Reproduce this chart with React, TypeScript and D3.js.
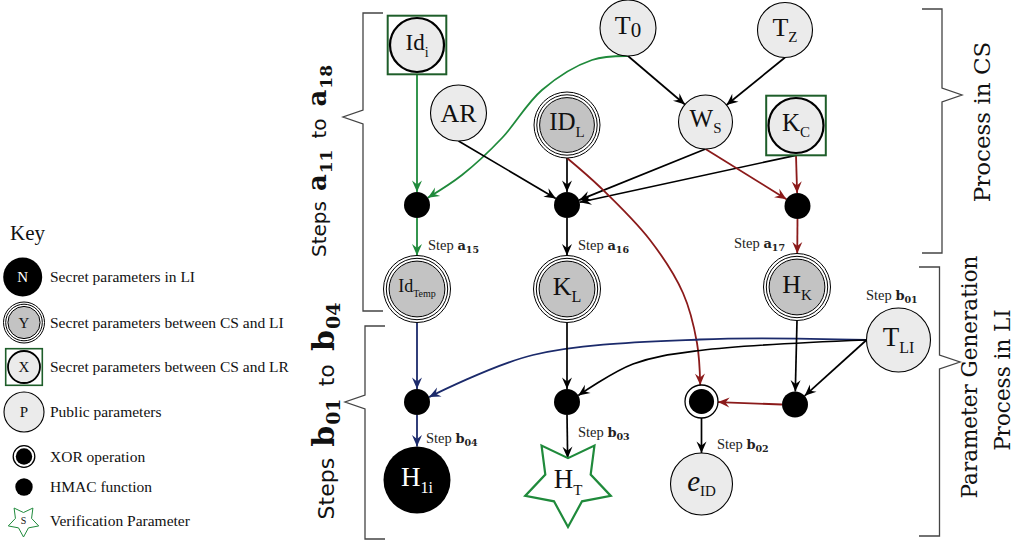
import React from 'react';
import * as d3 from 'd3';

type Kind = 'public' | 'lr' | 'secret' | 'li' | 'hmac' | 'xor' | 'star';
interface NodeDef { id: string; kind: Kind; x: number; y: number; r: number; main?: string; sub?: string; size?: number; subSize?: number; subDy?: number; italic?: boolean; }
interface EdgeDef { from: string; to: string; color?: 'black' | 'green' | 'red' | 'blue'; port?: 'bottom' | 'left'; via?: [number, number][]; }

const W = 1017;
const H = 542;

const SERIF = "'Liberation Serif', 'Times New Roman', serif";
const DSERIF = "'DejaVu Serif', serif";
const SANS = "'DejaVu Sans', sans-serif";

const COLORS: Record<string, string> = { black: '#000000', green: '#1f8a3b', red: '#8b1a1a', blue: '#1b2a6b' };
const BOX_GREEN = '#1e5e2a';
const FILL_PUBLIC = '#ebebeb';
const FILL_SECRET = '#c3c3c3';

// ---- diagram nodes ----
const NODES: NodeDef[] = [
  { id: 'Idi', kind: 'lr', x: 417, y: 45, r: 27, main: 'Id', sub: 'i', size: 23, subSize: 14, subDy: 7 },
  { id: 'T0', kind: 'public', x: 628, y: 28, r: 28, main: 'T', sub: '0', size: 26, subSize: 21, subDy: 3 },
  { id: 'Tz', kind: 'public', x: 785, y: 30, r: 27.5, main: 'T', sub: 'Z', size: 26, subSize: 15, subDy: 6 },
  { id: 'AR', kind: 'public', x: 458.5, y: 113, r: 28, main: 'AR', size: 26 },
  { id: 'IDL', kind: 'secret', x: 567, y: 125, r: 33, main: 'ID', sub: 'L', size: 25, subSize: 15, subDy: 7 },
  { id: 'WS', kind: 'public', x: 705.5, y: 122, r: 27, main: 'W', sub: 'S', size: 25, subSize: 15, subDy: 6 },
  { id: 'KC', kind: 'lr', x: 796, y: 125.5, r: 27.5, main: 'K', sub: 'C', size: 25, subSize: 15, subDy: 6 },
  { id: 'h1', kind: 'hmac', x: 417, y: 205, r: 13 },
  { id: 'h2', kind: 'hmac', x: 567, y: 205, r: 13 },
  { id: 'h3', kind: 'hmac', x: 797.5, y: 206, r: 13 },
  { id: 'IdTemp', kind: 'secret', x: 417, y: 289, r: 33.5, main: 'Id', sub: 'Temp', size: 18, subSize: 10, subDy: 5 },
  { id: 'KL', kind: 'secret', x: 567, y: 289, r: 33.5, main: 'K', sub: 'L', size: 26, subSize: 16, subDy: 7 },
  { id: 'HK', kind: 'secret', x: 797, y: 287, r: 33.5, main: 'H', sub: 'K', size: 26, subSize: 15, subDy: 7 },
  { id: 'TLI', kind: 'public', x: 898.5, y: 340, r: 32, main: 'T', sub: 'LI', size: 27, subSize: 16, subDy: 7 },
  { id: 'h4', kind: 'hmac', x: 417, y: 402, r: 13 },
  { id: 'h5', kind: 'hmac', x: 567, y: 402, r: 13 },
  { id: 'x1', kind: 'xor', x: 701.5, y: 401.5, r: 16.5 },
  { id: 'h6', kind: 'hmac', x: 795, y: 404.5, r: 13 },
  { id: 'H1i', kind: 'li', x: 417, y: 480, r: 33.5, main: 'H', sub: '1i', size: 27, subSize: 16, subDy: 7 },
  { id: 'HT', kind: 'star', x: 568, y: 482, r: 45, main: 'H', sub: 'T', size: 27, subSize: 15, subDy: 7 },
  { id: 'eID', kind: 'public', x: 701.5, y: 484, r: 31, main: 'e', sub: 'ID', size: 29, subSize: 15, subDy: 5, italic: true },
];

// ---- diagram edges ----
const EDGES: EdgeDef[] = [
  { from: 'Idi', to: 'h1', color: 'green' },
  { from: 'T0', to: 'h1', color: 'green', via: [[592, 60], [542, 90], [502, 138], [462, 175]] },
  { from: 'T0', to: 'WS' },
  { from: 'Tz', to: 'WS' },
  { from: 'AR', to: 'h2' },
  { from: 'IDL', to: 'h2' },
  { from: 'WS', to: 'h2' },
  { from: 'KC', to: 'h2' },
  { from: 'WS', to: 'h3', color: 'red' },
  { from: 'KC', to: 'h3', color: 'red' },
  { from: 'IDL', to: 'x1', color: 'red', via: [[601, 188], [650, 240], [683, 293], [697, 343]] },
  { from: 'h1', to: 'IdTemp', color: 'green' },
  { from: 'h2', to: 'KL' },
  { from: 'h3', to: 'HK', color: 'red' },
  { from: 'IdTemp', to: 'h4', color: 'blue' },
  { from: 'TLI', to: 'h4', color: 'blue', port: 'left', via: [[700, 339.5], [533, 355]] },
  { from: 'KL', to: 'h5' },
  { from: 'TLI', to: 'h5', port: 'left', via: [[700, 350.5], [633, 364]] },
  { from: 'HK', to: 'h6' },
  { from: 'TLI', to: 'h6', port: 'left' },
  { from: 'h6', to: 'x1', color: 'red', port: 'left' },
  { from: 'x1', to: 'eID' },
  { from: 'h4', to: 'H1i', color: 'blue' },
  { from: 'h5', to: 'HT' },
];

// ---- step annotations ----
const STEP_LETTERS = ['a', 'a', 'a', 'b', 'b', 'b', 'b'];
const STEP_NUMBERS = ['15', '16', '17', '01', '02', '03', '04'];
const STEP_ANCHORS: [number, number][] = [[428, 250], [578, 250], [734, 248], [866, 300], [717, 449], [578, 437], [426, 443]];

// ---- legend ----
const LEGEND_KINDS: Kind[] = ['li', 'secret', 'lr', 'public', 'xor', 'hmac', 'star'];
const LEGEND_GLYPHS = ['N', 'Y', 'X', 'P', '', '', 'S'];
const LEGEND_LABELS = [
  'Secret parameters in LI',
  'Secret parameters between CS and LI',
  'Secret parameters between CS and LR',
  'Public parameters',
  'XOR operation',
  'HMAC function',
  'Verification Parameter',
];
const LEGEND_Y = [277, 322.5, 367, 412, 456.5, 487, 521];

const nodeById: Record<string, NodeDef> = Object.fromEntries(NODES.map((n) => [n.id, n]));

const STAR_INNER = 0.53;

function starPath(cx: number, cy: number, R: number) {
  const pts: [number, number][] = [];
  for (let k = 0; k < 10; k++) {
    const ang = ((90 + k * 36) * Math.PI) / 180;
    const rr = k % 2 === 0 ? R : R * STAR_INNER;
    pts.push([cx + rr * Math.cos(ang), cy + rr * Math.sin(ang)]);
  }
  return d3.line()(pts) + 'Z';
}

function extent(n: NodeDef) {
  if (n.kind === 'lr') return n.r + 2.3;
  if (n.kind === 'star') return n.r * STAR_INNER;
  return n.r;
}

function edgePath(e: EdgeDef) {
  const a = nodeById[e.from];
  const b = nodeById[e.to];
  const via = e.via ?? [];
  const port = e.port ?? 'bottom';
  const start: [number, number] = port === 'bottom' ? [a.x, a.y + extent(a)] : [a.x - extent(a), a.y];
  const last = via.length ? via[via.length - 1] : start;
  const dx = last[0] - b.x;
  const dy = last[1] - b.y;
  const len = Math.hypot(dx, dy) || 1;
  const rb = extent(b);
  const end: [number, number] = [b.x + (dx / len) * rb, b.y + (dy / len) * rb];
  const pts = [start, ...via, end];
  return d3.line().curve(d3.curveCatmullRom.alpha(0.5))(pts) as string;
}

function bracketPath(hx: number, vx: number, top: number, bottom: number, tipX: number, tipY: number) {
  const pts: [number, number][] = [
    [hx, top], [vx, top], [vx, tipY - 7], [tipX, tipY], [vx, tipY + 7], [vx, bottom], [hx, bottom],
  ];
  return d3.line()(pts) as string;
}

function Label({ n, fill }: { n: NodeDef; fill: string }) {
  const s = n.size ?? 24;
  const base = n.y + 0.33 * s - (n.sub ? 3 : 0);
  return (
    <text x={n.x} y={base} textAnchor="middle" fontFamily={SERIF} fill={fill}>
      <tspan fontSize={s} fontStyle={n.italic ? 'italic' : 'normal'}>{n.main}</tspan>
      {n.sub ? <tspan fontSize={n.subSize} dy={n.subDy}>{n.sub}</tspan> : null}
    </text>
  );
}

function NodeShape({ n, legend }: { n: NodeDef; legend?: boolean }) {
  const { x, y, r } = n;
  switch (n.kind) {
    case 'public':
      return <circle cx={x} cy={y} r={r} fill={FILL_PUBLIC} stroke="#000" strokeWidth={1.1} />;
    case 'lr': {
      const h = r + 2.3;
      return (
        <g>
          <rect x={x - h} y={y - h} width={2 * h} height={2 * h} fill="#fff" stroke={BOX_GREEN} strokeWidth={legend ? 1.6 : 2} />
          <circle cx={x} cy={y} r={r} fill={FILL_PUBLIC} stroke="#000" strokeWidth={legend ? 1.8 : 2.2} />
        </g>
      );
    }
    case 'secret': {
      const step = legend ? 2.2 : 2.8;
      return (
        <g stroke="#000" strokeWidth={1}>
          <circle cx={x} cy={y} r={r} fill="#fff" />
          <circle cx={x} cy={y} r={r - step} fill="#fff" />
          <circle cx={x} cy={y} r={r - 2 * step} fill={FILL_SECRET} />
        </g>
      );
    }
    case 'li':
    case 'hmac':
      return <circle cx={x} cy={y} r={r} fill="#000" />;
    case 'xor':
      return (
        <g>
          <circle cx={x} cy={y} r={r} fill="#fff" stroke="#000" strokeWidth={1.3} />
          <circle cx={x} cy={y} r={r * 0.76} fill="#000" />
        </g>
      );
    case 'star':
      return <path d={starPath(x, y, r)} fill="#fff" stroke={COLORS.green} strokeWidth={legend ? 1 : 2.2} strokeLinejoin="miter" />;
    default:
      return null;
  }
}

function StepLabel({ letter, num, x, y }: { letter: string; num: string; x: number; y: number }) {
  return (
    <text x={x} y={y} fill="#222">
      <tspan fontFamily={SERIF} fontSize={14.5}>Step </tspan>
      <tspan fontFamily={DSERIF} fontWeight="bold" fontSize={13}>{letter}</tspan>
      <tspan fontFamily={DSERIF} fontWeight="bold" fontSize={9.5} dy={3}>{num}</tspan>
    </text>
  );
}

function RangeLabel({ x, y, letter, n1, n2, s, b, d }: { x: number; y: number; letter: string; n1: string; n2: string; s: number; b: number; d: number }) {
  return (
    <text transform={`translate(${x},${y}) rotate(-90)`} textAnchor="middle" fill="#111">
      <tspan fontFamily={SANS} fontSize={s}>Steps</tspan>
      <tspan fontFamily={DSERIF} fontWeight="bold" fontSize={b} dx={s * 0.5}>{letter}</tspan>
      <tspan fontFamily={DSERIF} fontWeight="bold" fontSize={d} dy={d * 0.33} dx={1}>{n1}</tspan>
      <tspan fontFamily={SANS} fontSize={s} dy={-d * 0.33} dx={s * 0.55}>to</tspan>
      <tspan fontFamily={DSERIF} fontWeight="bold" fontSize={b} dx={s * 0.6}>{letter}</tspan>
      <tspan fontFamily={DSERIF} fontWeight="bold" fontSize={d} dy={d * 0.33} dx={1}>{n2}</tspan>
    </text>
  );
}

export default function App() {
  const markerColors = Object.keys(COLORS);
  return (
    <svg width={W} height={H} viewBox={`0 0 ${W} ${H}`} style={{ position: 'absolute', left: 0, top: 0, background: '#fff' }}>
      <defs>
        {markerColors.map((c) => (
          <marker key={c} id={`arr-${c}`} markerUnits="userSpaceOnUse" markerWidth={14} markerHeight={12} viewBox="-12 -6 14 12" refX={0} refY={0} orient="auto">
            <path d="M0,0 L-11.5,-5 L-7.5,0 L-11.5,5 Z" fill={COLORS[c]} />
          </marker>
        ))}
      </defs>

      {/* brackets */}
      <g fill="none" stroke="#444" strokeWidth={1.3}>
        <path d={bracketPath(383, 363, 13, 311, 343, 117)} />
        <path d={bracketPath(385, 365, 326, 539, 345, 402)} />
        <path d={bracketPath(922, 942, 9, 253, 962, 95)} />
        <path d={bracketPath(919, 939.5, 267, 536, 960, 362)} />
      </g>

      {/* group labels */}
      <RangeLabel x={326} y={161} letter="a" n1="11" n2="18" s={20} b={26} d={17} />
      <RangeLabel x={334} y={411} letter="b" n1="01" n2="04" s={22} b={30} d={19} />
      <text transform="translate(990,122) rotate(-90)" textAnchor="middle" fontFamily={DSERIF} fontSize={23} fill="#111">Process in CS</text>
      <text transform="translate(977,377) rotate(-90)" textAnchor="middle" fontFamily={DSERIF} fontSize={21.5} fill="#111">Parameter Generation</text>
      <text transform="translate(1010,380) rotate(-90)" textAnchor="middle" fontFamily={DSERIF} fontSize={21.5} fill="#111">Process in LI</text>

      {/* edges */}
      <g fill="none">
        {EDGES.map((e, i) => {
          const c = e.color ?? 'black';
          return (
            <path key={i} d={edgePath(e)} stroke={COLORS[c]} strokeWidth={c === 'black' ? 1.7 : 1.8} markerEnd={`url(#arr-${c})`} />
          );
        })}
      </g>

      {/* nodes */}
      {NODES.map((n) => (
        <g key={n.id}>
          <NodeShape n={n} />
          {n.main ? <Label n={n} fill={n.kind === 'li' ? '#fff' : '#111'} /> : null}
        </g>
      ))}

      {/* step labels */}
      {STEP_ANCHORS.map(([x, y], i) => (
        <StepLabel key={i} letter={STEP_LETTERS[i]} num={STEP_NUMBERS[i]} x={x} y={y} />
      ))}

      {/* legend */}
      <text x={10} y={240} fontFamily={SERIF} fontSize={21} fill="#111">Key</text>
      {LEGEND_KINDS.map((k, i) => {
        const sizes: Record<Kind, number> = { li: 19.5, secret: 20.5, lr: 16, public: 20, xor: 10.8, hmac: 8.7, star: 16 };
        const cx = k === 'li' ? 22.7 : 24;
        const node: NodeDef = { id: `leg${i}`, kind: k, x: k === 'star' ? 23.5 : cx, y: LEGEND_Y[i], r: sizes[k] };
        const g = LEGEND_GLYPHS[i];
        return (
          <g key={i}>
            <NodeShape n={node} legend />
            {g ? (
              <text x={node.x} y={LEGEND_Y[i] + (k === 'star' ? 3 : 5)} textAnchor="middle" fontFamily={SERIF} fontSize={k === 'star' ? 10 : 15} fill={k === 'li' ? '#fff' : '#111'}>{g}</text>
            ) : null}
            <text x={50} y={LEGEND_Y[i] + 5} fontFamily={SERIF} fontSize={15.5} fill="#111">{LEGEND_LABELS[i]}</text>
          </g>
        );
      })}
    </svg>
  );
}
